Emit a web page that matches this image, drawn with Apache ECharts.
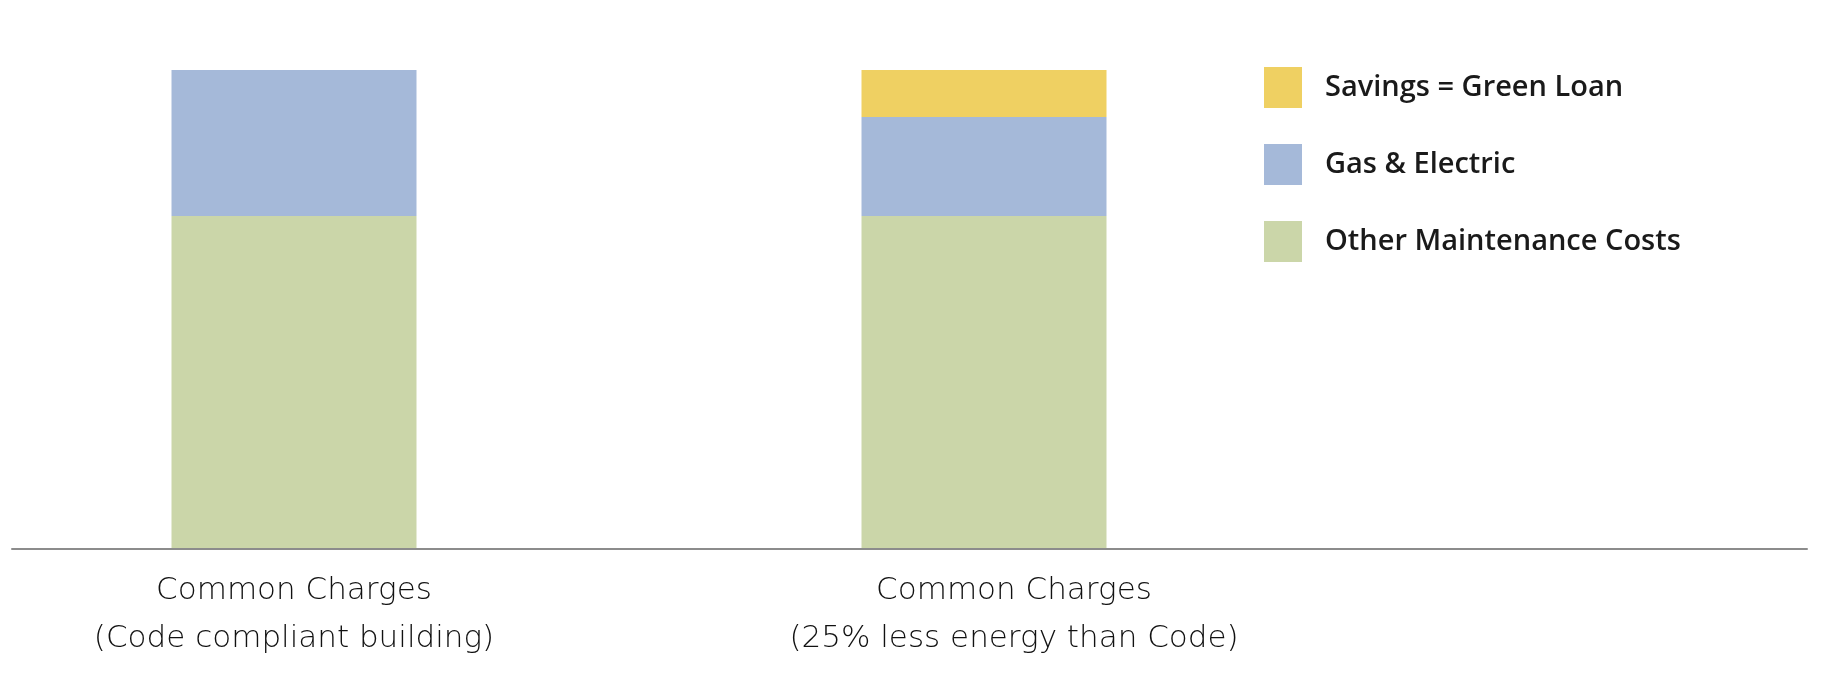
<!DOCTYPE html>
<html>
<head>
<meta charset="utf-8">
<script src="https://cdn.jsdelivr.net/npm/echarts@6/dist/echarts.min.js"></script>
<style>
html,body{margin:0;padding:0;background:#fff;}
#c{width:1824px;height:688px;}
</style>
</head>
<body>
<div id="c"></div>
<script>
const categories = ["Common Charges\n(Code compliant building)", "Common Charges\n(25% less energy than Code)"];
const otherMaintenance = [69.5, 69.5];
const gasElectric = [30.5, 20.7];
const savingsGreenLoan = [null, 9.8];
const seriesNames = ["Other Maintenance Costs", "Gas & Electric", "Savings = Green Loan"];
const legendOrder = ["Savings = Green Loan", "Gas & Electric", "Other Maintenance Costs"];

const chart = echarts.init(document.getElementById('c'), null, {renderer: 'canvas'});
const labelFont = {fontFamily: 'DejaVu Sans', fontWeight: 200, fontSize: 31, color: '#111', lineHeight: 48};
chart.setOption({
  animation: false,
  backgroundColor: '#fff',
  legend: {
    data: legendOrder,
    orient: 'vertical',
    left: 1264, top: 67, padding: 0,
    icon: 'rect',
    itemWidth: 38, itemHeight: 41, itemGap: 36,
    textStyle: {fontFamily: 'Open Sans', fontWeight: 600, fontSize: 29, color: '#1a1a1a', padding: [0,0,0,18]}
  },
  grid: [
    {left: 294, right: 840, top: 70, bottom: 139},
    {left: 12, right: 17, top: 70, bottom: 139}
  ],
  xAxis: [
    {
      type: 'category', gridIndex: 0, boundaryGap: false,
      data: [
        {value: categories[0]},
        {value: categories[1], textStyle: {padding: [0,0,0,60]}}
      ],
      axisLine: {show: false}, axisTick: {show: false}, splitLine: {show: false},
      axisLabel: Object.assign({margin: 18, interval: 0}, labelFont)
    },
    {
      type: 'value', gridIndex: 1, z: 10,
      axisLine: {show: true, lineStyle: {color: '#8c8c8c', width: 2}},
      axisTick: {show: false}, axisLabel: {show: false}, splitLine: {show: false}
    }
  ],
  yAxis: [
    {type: 'value', gridIndex: 0, min: 0, max: 100, show: false},
    {type: 'value', gridIndex: 1, min: 0, max: 100, show: false}
  ],
  series: [
    {name: seriesNames[0], type: 'bar', stack: 'a', data: otherMaintenance, barWidth: 245, itemStyle: {color: '#cbd6a9'}},
    {name: seriesNames[1], type: 'bar', stack: 'a', data: gasElectric, barWidth: 245, itemStyle: {color: '#a5b9d9'}},
    {name: seriesNames[2], type: 'bar', stack: 'a', data: savingsGreenLoan, barWidth: 245, itemStyle: {color: '#efd062'}}
  ]
});
</script>
</body>
</html>
